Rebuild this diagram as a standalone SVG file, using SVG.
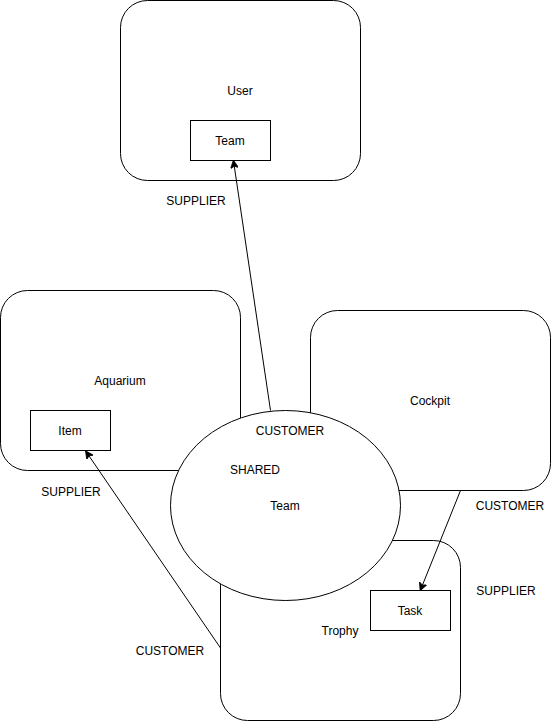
<svg xmlns="http://www.w3.org/2000/svg" width="551" height="721" viewBox="0 0 551 721">
<style>
.box{fill:#fff;stroke:#000;stroke-width:1}
.t{font-family:"Liberation Sans",Arial,sans-serif;font-size:12px;fill:#000;text-anchor:middle;dominant-baseline:central}
.edge{fill:none;stroke:#000;stroke-width:1}
</style>
<defs>
<marker id="arr" viewBox="0 0 10 10" refX="9" refY="5" markerWidth="8" markerHeight="8" markerUnits="userSpaceOnUse" orient="auto">
<path d="M0,0 L10,5 L0,10 L2.5,5 Z" fill="#000" stroke="#000" stroke-width="1"/>
</marker>
</defs>
<rect width="551" height="721" fill="#fff"/>
<g id="user"><rect class="box" x="120.5" y="0.5" width="240" height="180" rx="27" ry="27"/><text class="t" x="240" y="91">User</text></g>
<g id="aquarium"><rect class="box" x="0.5" y="290.5" width="240" height="180" rx="27" ry="27"/><text class="t" x="120" y="381">Aquarium</text></g>
<g id="cockpit"><rect class="box" x="310.5" y="310.5" width="240" height="180" rx="27" ry="27"/><text class="t" x="430" y="401">Cockpit</text></g>
<g id="trophy"><rect class="box" x="220.5" y="540.5" width="240" height="180" rx="27" ry="27"/><text class="t" x="340" y="631">Trophy</text></g>
<g id="shared"><ellipse class="box" cx="285.5" cy="505.5" rx="115" ry="95"/><text class="t" x="285" y="506">Team</text><text class="t" x="255" y="470">SHARED</text></g>
<g id="team"><rect class="box" x="190.5" y="120.5" width="80" height="40"/><text class="t" x="230" y="141">Team</text></g>
<g id="item"><rect class="box" x="30.5" y="410.5" width="80" height="40"/><text class="t" x="70" y="431">Item</text></g>
<g id="task"><rect class="box" x="370.5" y="590.5" width="80" height="40"/><text class="t" x="410" y="611">Task</text></g>
<g id="connectors">
<line class="edge" x1="270.5" y1="410.5" x2="233.5" y2="161" marker-end="url(#arr)"/>
<line class="edge" x1="220.5" y1="648" x2="86" y2="451.5" marker-end="url(#arr)"/>
<line class="edge" x1="460.5" y1="490.5" x2="420.5" y2="590" marker-end="url(#arr)"/>
</g>
<g id="labels">
<text class="t" x="196" y="201">SUPPLIER</text>
<text class="t" x="290" y="431">CUSTOMER</text>
<text class="t" x="71" y="492">SUPPLIER</text>
<text class="t" x="170" y="651">CUSTOMER</text>
<text class="t" x="510" y="506">CUSTOMER</text>
<text class="t" x="506" y="591">SUPPLIER</text>
</g>
</svg>
